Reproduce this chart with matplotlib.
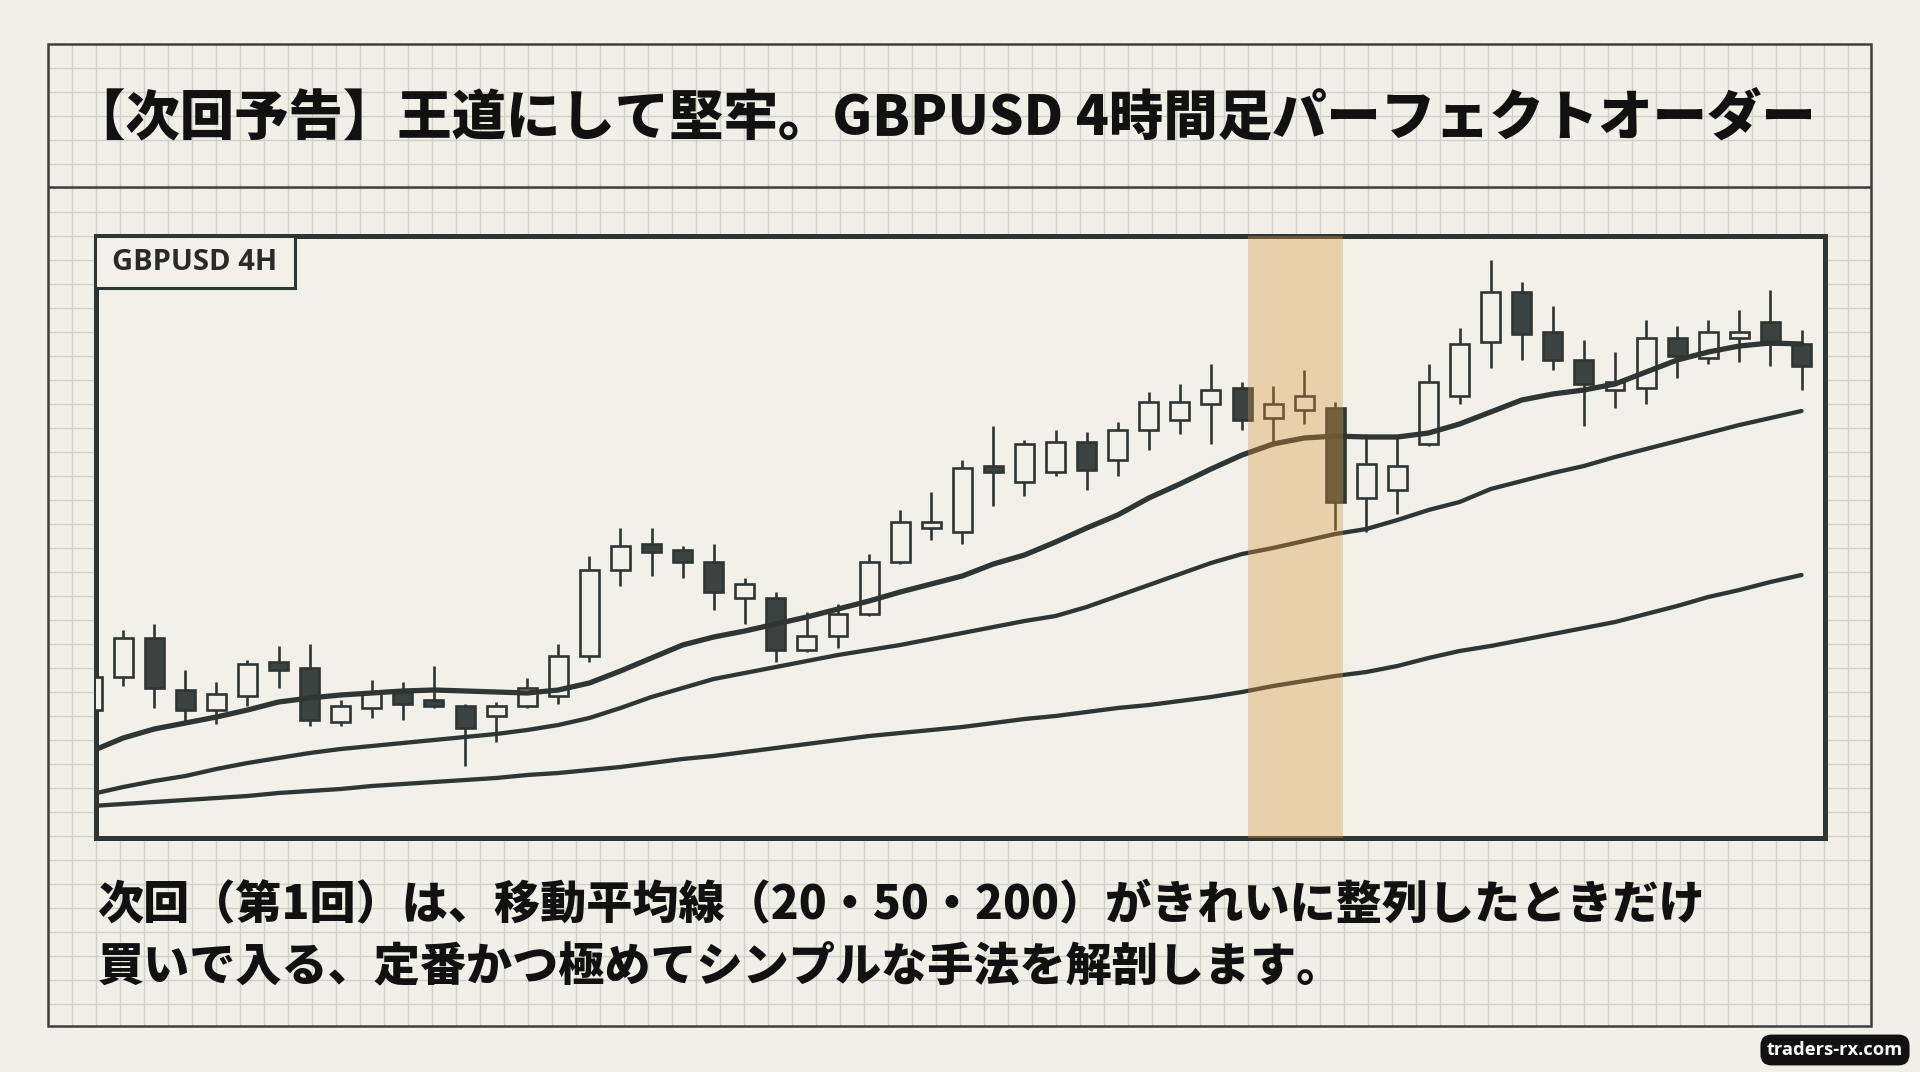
import numpy as np
import matplotlib
matplotlib.use("Agg")
import matplotlib.pyplot as plt
from matplotlib.patches import Rectangle

# ---- data ----
title = "【次回予告】王道にして堅牢。GBPUSD 4時間足パーフェクトオーダー"
chart_label = "GBPUSD 4H"
caption_lines = [
    "次回（第1回）は、移動平均線（20・50・200）がきれいに整列したときだけ",
    "買いで入る、定番かつ極めてシンプルな手法を解剖します。",
]
watermark = "traders-rx.com"

opens = [1.2290, 1.2323, 1.2362, 1.2310, 1.2290, 1.2304, 1.2338, 1.2332, 1.2278, 1.2292,
         1.2308, 1.2300, 1.2294, 1.2284, 1.2294, 1.2304, 1.2344, 1.2430, 1.2456, 1.2450,
         1.2438, 1.2402, 1.2402, 1.2350, 1.2364, 1.2386, 1.2438, 1.2472, 1.2468, 1.2534,
         1.2518, 1.2528, 1.2558, 1.2540, 1.2570, 1.2580, 1.2596, 1.2612, 1.2582, 1.2590,
         1.2592, 1.2502, 1.2510, 1.2556, 1.2604, 1.2658, 1.2708, 1.2668, 1.2640, 1.2610,
         1.2612, 1.2662, 1.2642, 1.2662, 1.2678, 1.2656]
highs = [1.2344, 1.2370, 1.2376, 1.2330, 1.2318, 1.2340, 1.2354, 1.2356, 1.2300, 1.2320,
         1.2318, 1.2334, 1.2296, 1.2298, 1.2322, 1.2356, 1.2444, 1.2472, 1.2472, 1.2454,
         1.2456, 1.2422, 1.2408, 1.2388, 1.2396, 1.2446, 1.2490, 1.2508, 1.2540, 1.2574,
         1.2560, 1.2570, 1.2568, 1.2578, 1.2608, 1.2616, 1.2636, 1.2618, 1.2614, 1.2630,
         1.2598, 1.2566, 1.2562, 1.2636, 1.2672, 1.2740, 1.2718, 1.2694, 1.2660, 1.2648,
         1.2680, 1.2674, 1.2680, 1.2690, 1.2710, 1.2670]
lows = [1.2254, 1.2314, 1.2292, 1.2278, 1.2276, 1.2294, 1.2312, 1.2274, 1.2274, 1.2282,
        1.2280, 1.2292, 1.2234, 1.2258, 1.2292, 1.2296, 1.2338, 1.2414, 1.2424, 1.2422,
        1.2390, 1.2376, 1.2338, 1.2348, 1.2352, 1.2384, 1.2436, 1.2460, 1.2456, 1.2494,
        1.2504, 1.2524, 1.2510, 1.2524, 1.2550, 1.2566, 1.2556, 1.2570, 1.2554, 1.2576,
        1.2470, 1.2468, 1.2486, 1.2554, 1.2596, 1.2632, 1.2640, 1.2630, 1.2574, 1.2592,
        1.2596, 1.2622, 1.2636, 1.2638, 1.2634, 1.2610]
closes = [1.2323, 1.2362, 1.2312, 1.2290, 1.2306, 1.2336, 1.2330, 1.2280, 1.2294, 1.2308,
          1.2296, 1.2294, 1.2272, 1.2294, 1.2312, 1.2344, 1.2430, 1.2454, 1.2448, 1.2438,
          1.2408, 1.2416, 1.2350, 1.2364, 1.2386, 1.2438, 1.2478, 1.2478, 1.2532, 1.2528,
          1.2556, 1.2558, 1.2530, 1.2570, 1.2598, 1.2598, 1.2610, 1.2580, 1.2596, 1.2604,
          1.2498, 1.2536, 1.2534, 1.2618, 1.2656, 1.2708, 1.2666, 1.2640, 1.2616, 1.2618,
          1.2662, 1.2644, 1.2668, 1.2668, 1.2656, 1.2634]

ma20 = [1.2249, 1.2262, 1.2271, 1.2277, 1.2283, 1.2290, 1.2298, 1.2302, 1.2305, 1.2307,
        1.2309, 1.2310, 1.2309, 1.2308, 1.2307, 1.2310, 1.2317, 1.2329, 1.2342, 1.2355,
        1.2363, 1.2369, 1.2376, 1.2383, 1.2391, 1.2399, 1.2408, 1.2416, 1.2424, 1.2436,
        1.2445, 1.2458, 1.2472, 1.2485, 1.2502, 1.2516, 1.2531, 1.2545, 1.2556, 1.2562,
        1.2564, 1.2563, 1.2563, 1.2567, 1.2576, 1.2588, 1.2600, 1.2606, 1.2610, 1.2616,
        1.2628, 1.2640, 1.2648, 1.2654, 1.2657, 1.2656]
ma50 = [1.2206, 1.2213, 1.2219, 1.2224, 1.2231, 1.2237, 1.2242, 1.2247, 1.2251, 1.2254,
        1.2257, 1.2260, 1.2263, 1.2266, 1.2270, 1.2275, 1.2282, 1.2292, 1.2303, 1.2312,
        1.2321, 1.2327, 1.2333, 1.2339, 1.2345, 1.2350, 1.2355, 1.2361, 1.2367, 1.2373,
        1.2379, 1.2384, 1.2393, 1.2404, 1.2415, 1.2426, 1.2437, 1.2446, 1.2452, 1.2459,
        1.2466, 1.2471, 1.2480, 1.2490, 1.2498, 1.2511, 1.2519, 1.2527, 1.2534, 1.2543,
        1.2551, 1.2559, 1.2567, 1.2575, 1.2582, 1.2589]
ma200 = [1.2194, 1.2196, 1.2198, 1.2200, 1.2202, 1.2204, 1.2207, 1.2209, 1.2211, 1.2214,
         1.2216, 1.2218, 1.2220, 1.2222, 1.2225, 1.2227, 1.2230, 1.2233, 1.2237, 1.2241,
         1.2244, 1.2248, 1.2252, 1.2256, 1.2260, 1.2264, 1.2267, 1.2270, 1.2273, 1.2277,
         1.2281, 1.2284, 1.2288, 1.2292, 1.2295, 1.2299, 1.2303, 1.2308, 1.2314, 1.2319,
         1.2324, 1.2328, 1.2334, 1.2342, 1.2349, 1.2354, 1.2360, 1.2366, 1.2372, 1.2378,
         1.2386, 1.2394, 1.2403, 1.2410, 1.2418, 1.2425]

# highlighted candles (index range of the shaded band)
band_start, band_end = 37.2, 40.25

# ---- style ----
BG = "#f1f0e8"
PANEL = "#f2f1e9"
GRID = "#cfd0c6"
INK = "#2f3533"
DARK = "#3b4341"
JP = ["Noto Sans CJK JP", "DejaVu Sans"]
LATIN = ["Open Sans", "DejaVu Sans"]

W, H = 1920, 1072
fig = plt.figure(figsize=(W / 100, H / 100), dpi=100, facecolor=BG)

# background sheet with graph-paper grid
bg = fig.add_axes([0, 0, 1, 1])
bg.set_xlim(0, W)
bg.set_ylim(H, 0)
bg.axis("off")
ox0, oy0, ox1, oy1 = 48, 44, 1871, 1026
bg.vlines(np.arange(72, ox1, 24), oy0, oy1, color=GRID, lw=1.0, zorder=1)
bg.hlines(np.arange(68, oy1, 24), ox0, ox1, color=GRID, lw=1.0, zorder=1)
bg.add_patch(Rectangle((ox0, oy0), ox1 - ox0, oy1 - oy0, fill=False,
                       ec="#3c3f3d", lw=1.8, zorder=3))
bg.hlines(187, ox0, ox1, color="#3c3f3d", lw=1.8, zorder=3)

bg.text(71, 119, title, family=JP, weight="heavy", fontsize=39.2,
        color="#111111", va="center", ha="left", zorder=4)
for k, line in enumerate(caption_lines):
    bg.text(98, 906 + k * 61, line, family=JP, weight="heavy", fontsize=33.2,
            color="#111111", va="center", ha="left", zorder=4)

# candlestick chart
cx0, cy0, cx1, cy1 = 95.5, 236, 1824.5, 837.5
ax = fig.add_axes([cx0 / W, 1 - cy1 / H, (cx1 - cx0) / W, (cy1 - cy0) / H])
ax.set_facecolor(PANEL)
x = np.arange(len(opens))
o = np.array(opens)
c = np.array(closes)
up = c >= o
fills = [PANEL if u else DARK for u in up]

ax.vlines(x, lows, highs, color=INK, lw=1.9, zorder=2)
ax.bar(x, np.abs(c - o), bottom=np.minimum(o, c), width=0.61,
       color=fills, edgecolor=INK, linewidth=1.9, zorder=3)
ax.plot(x, ma20, color=INK, lw=3.8, zorder=4, solid_capstyle="round")
ax.plot(x, ma50, color=INK, lw=3.1, zorder=4, solid_capstyle="round")
ax.plot(x, ma200, color=INK, lw=3.1, zorder=4, solid_capstyle="round")
ax.axvspan(band_start, band_end, color="#d7963c", alpha=0.36, lw=0, zorder=5)

ax.set_xlim(0.11, 55.74)
ax.set_ylim(1.21625, 1.2764)
ax.set_xticks([])
ax.set_yticks([])
for s in ax.spines.values():
    s.set_color(INK)
    s.set_linewidth(3.6)

# overlay: label box and watermark
top = fig.add_axes([0, 0, 1, 1])
top.set_xlim(0, W)
top.set_ylim(H, 0)
top.axis("off")
top.patch.set_alpha(0)
top.add_patch(Rectangle((95, 236), 200, 52, fc=PANEL, ec=INK, lw=2.2, zorder=2))
top.text(112, 263, chart_label, family=LATIN, weight="bold",
         fontsize=21, color="#2a2a2a", va="center", ha="left", zorder=3)
top.text(1835, 1050, watermark, family=LATIN, weight="bold",
         fontsize=13.2, color="white", va="center", ha="center", zorder=3,
         bbox=dict(boxstyle="round,pad=0.35,rounding_size=0.6", fc="#111111", ec="none"))

fig.savefig("out.png", dpi=100, facecolor=BG)
